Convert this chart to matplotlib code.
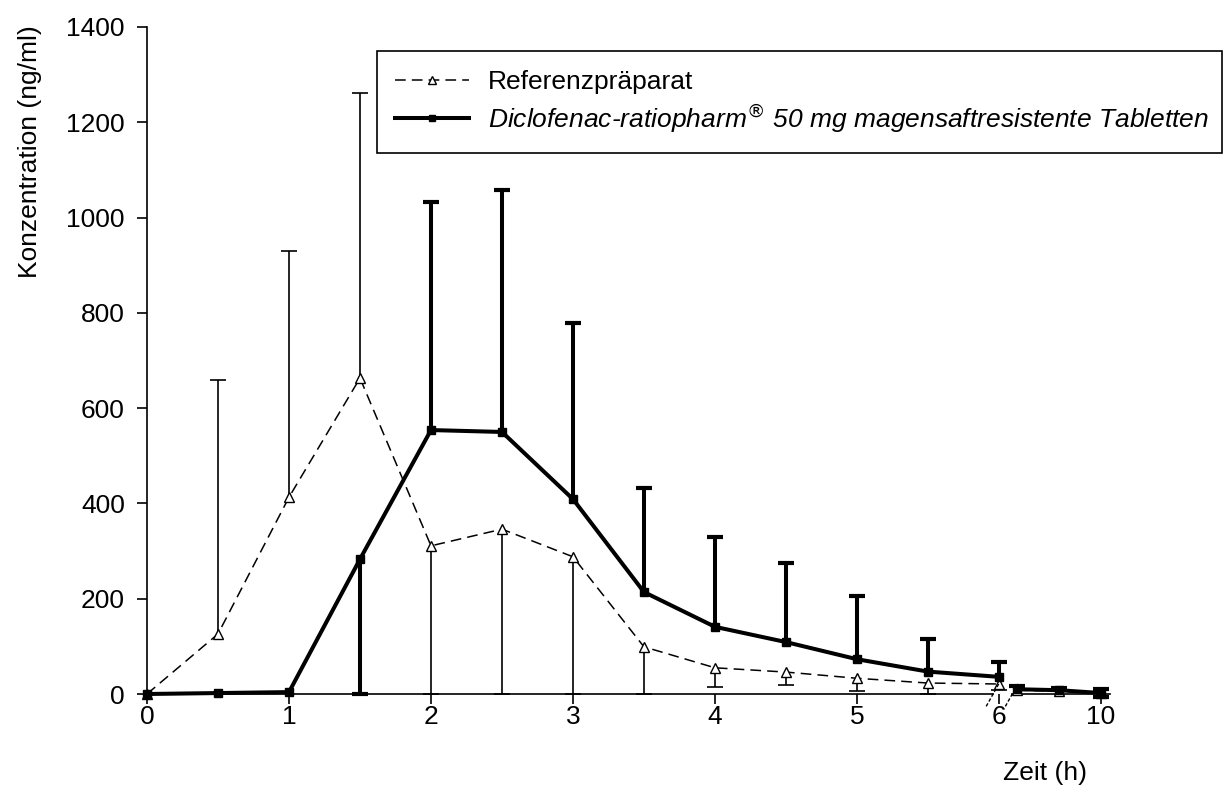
import matplotlib
matplotlib.use("Agg")
import matplotlib.pyplot as plt
from matplotlib.lines import Line2D
import numpy as np

plt.rcParams['font.family'] = ['Liberation Sans', 'DejaVu Sans']

# sampling times (h)
times = np.array([0, 0.5, 1, 1.5, 2, 2.5, 3, 3.5, 4, 4.5, 5, 5.5, 6, 8, 9, 10])

# Referenzpraeparat
ref_mean = np.array([0, 126, 413, 663, 311, 346, 288, 99, 55, 46, 33, 23, 21, 8, 6, 2])
ref_err_hi = np.array([0, 534, 517, 599, 0, 0, 0, 0, 0, 0, 0, 0, 0, 0, 0, 0])
ref_err_lo = np.array([0, 0, 0, 0, 311, 346, 288, 99, 40, 27, 27, 23, 12, 0, 0, 0])

# Diclofenac-ratiopharm
dic_mean = np.array([0, 2, 4, 283, 554, 550, 409, 214, 141, 109, 73, 47, 36, 10, 8, 2])
dic_err_hi = np.array([0, 0, 0, 0, 479, 508, 370, 218, 189, 166, 133, 68, 31, 6, 4, 8])
dic_err_lo = np.array([0, 0, 0, 283, 0, 0, 0, 0, 0, 0, 0, 0, 0, 0, 0, 8])

x_ticks = [0, 1, 2, 3, 4, 5, 6, 10]
y_ticks = [0, 200, 400, 600, 800, 1000, 1200, 1400]

label_ref = "Referenzpräparat"
label_dic = r"Diclofenac-ratiopharm$^{\circledR}$ 50 mg magensaftresistente Tabletten"

FS = 19

# broken time axis: 0-6 linear, then 8-10 compressed
BREAK_T = 6
RESUME_T = 8
GAP = 0.127
COMPRESS = 0.296


def pos(t):
    t = np.asarray(t, dtype=float)
    return np.where(t <= BREAK_T, t, BREAK_T + GAP + (t - RESUME_T) * COMPRESS)


fig = plt.figure(figsize=(12.24, 7.9), dpi=100)
ax = fig.add_axes([147 / 1224, 96 / 790, 963 / 1224, 667 / 790])

px = pos(times)
left = times <= BREAK_T
right = times > BREAK_T


def draw_series(mean, lo, hi, lw, ls, marker, mfc, ms, cap_ms, cap_mew, z):
    for part in (left, right):
        ax.plot(px[part], mean[part], color='black', lw=lw, ls=ls, marker=marker,
                mfc=mfc, mec='black', ms=ms, mew=1.0, zorder=z, clip_on=False)
    ax.vlines(px, mean - lo, mean + hi, color='black', lw=lw if lw > 2 else 1.2,
              zorder=z - 0.5, clip_on=False)
    m = hi > 0
    ax.plot(px[m], (mean + hi)[m], ls='none', marker='_', color='black',
            ms=cap_ms, mew=cap_mew, zorder=z - 0.5, clip_on=False)
    m = lo > 0
    ax.plot(px[m], (mean - lo)[m], ls='none', marker='_', color='black',
            ms=cap_ms, mew=cap_mew, zorder=z - 0.5, clip_on=False)


draw_series(ref_mean, ref_err_lo, ref_err_hi, 1.1, (0, (7, 4)), '^', 'white', 7,
            11, 1.2, 3)
draw_series(dic_mean, dic_err_lo, dic_err_hi, 2.9, '-', 's', 'black', 6,
            11.5, 3.0, 5)

ax.set_xlim(0, 6.782)
ax.set_ylim(0, 1400)

for s in ['top', 'right', 'bottom']:
    ax.spines[s].set_visible(False)
ax.spines['left'].set_linewidth(1.2)

# x axis line with a gap at the break
ax.plot([0, 5.955], [0, 0], color='black', lw=1.2, zorder=2, clip_on=False)
ax.plot([6.09, 6.782], [0, 0], color='black', lw=1.2, zorder=2, clip_on=False)
for bx in (5.955, 6.09):
    ax.plot([bx - 0.045, bx + 0.045], [-26, 22], color='black', lw=1.0,
            ls=(0, (2.5, 1.5)), zorder=6, clip_on=False)

ax.set_xticks(pos(x_ticks))
ax.set_xticklabels([str(t) for t in x_ticks])
ax.set_yticks(y_ticks)
ax.tick_params(axis='both', direction='out', length=7, width=1.2, labelsize=FS,
               colors='black')
ax.tick_params(axis='y', pad=9)
ax.tick_params(axis='x', pad=1)

ax.set_ylabel("Konzentration (ng/ml)", fontsize=FS)
ax.yaxis.set_label_coords(-0.109, 0.8126)
ax.set_xlabel("Zeit (h)", fontsize=FS)
ax.xaxis.set_label_coords(0.9325, -0.101)

handles = [
    Line2D([], [], color='black', lw=1.1, ls=(0, (7, 4)), marker='^', mfc='white',
           mec='black', ms=6),
    Line2D([], [], color='black', lw=2.9, marker='s', mfc='black', mec='black', ms=5),
]
leg = fig.legend(handles, [label_ref, label_dic], loc='lower left',
                 bbox_to_anchor=(377 / 1224, 1 - 153 / 790, 845 / 1224, 108 / 790),
                 mode='expand', fontsize=FS, frameon=True, fancybox=False,
                 edgecolor='black', framealpha=1, borderpad=0.7, labelspacing=0.3,
                 handlelength=2.8, handletextpad=0.7, borderaxespad=0)
leg.get_frame().set_linewidth(1.2)
leg.get_texts()[1].set_fontstyle('italic')

fig.savefig("out.png", dpi=100)
